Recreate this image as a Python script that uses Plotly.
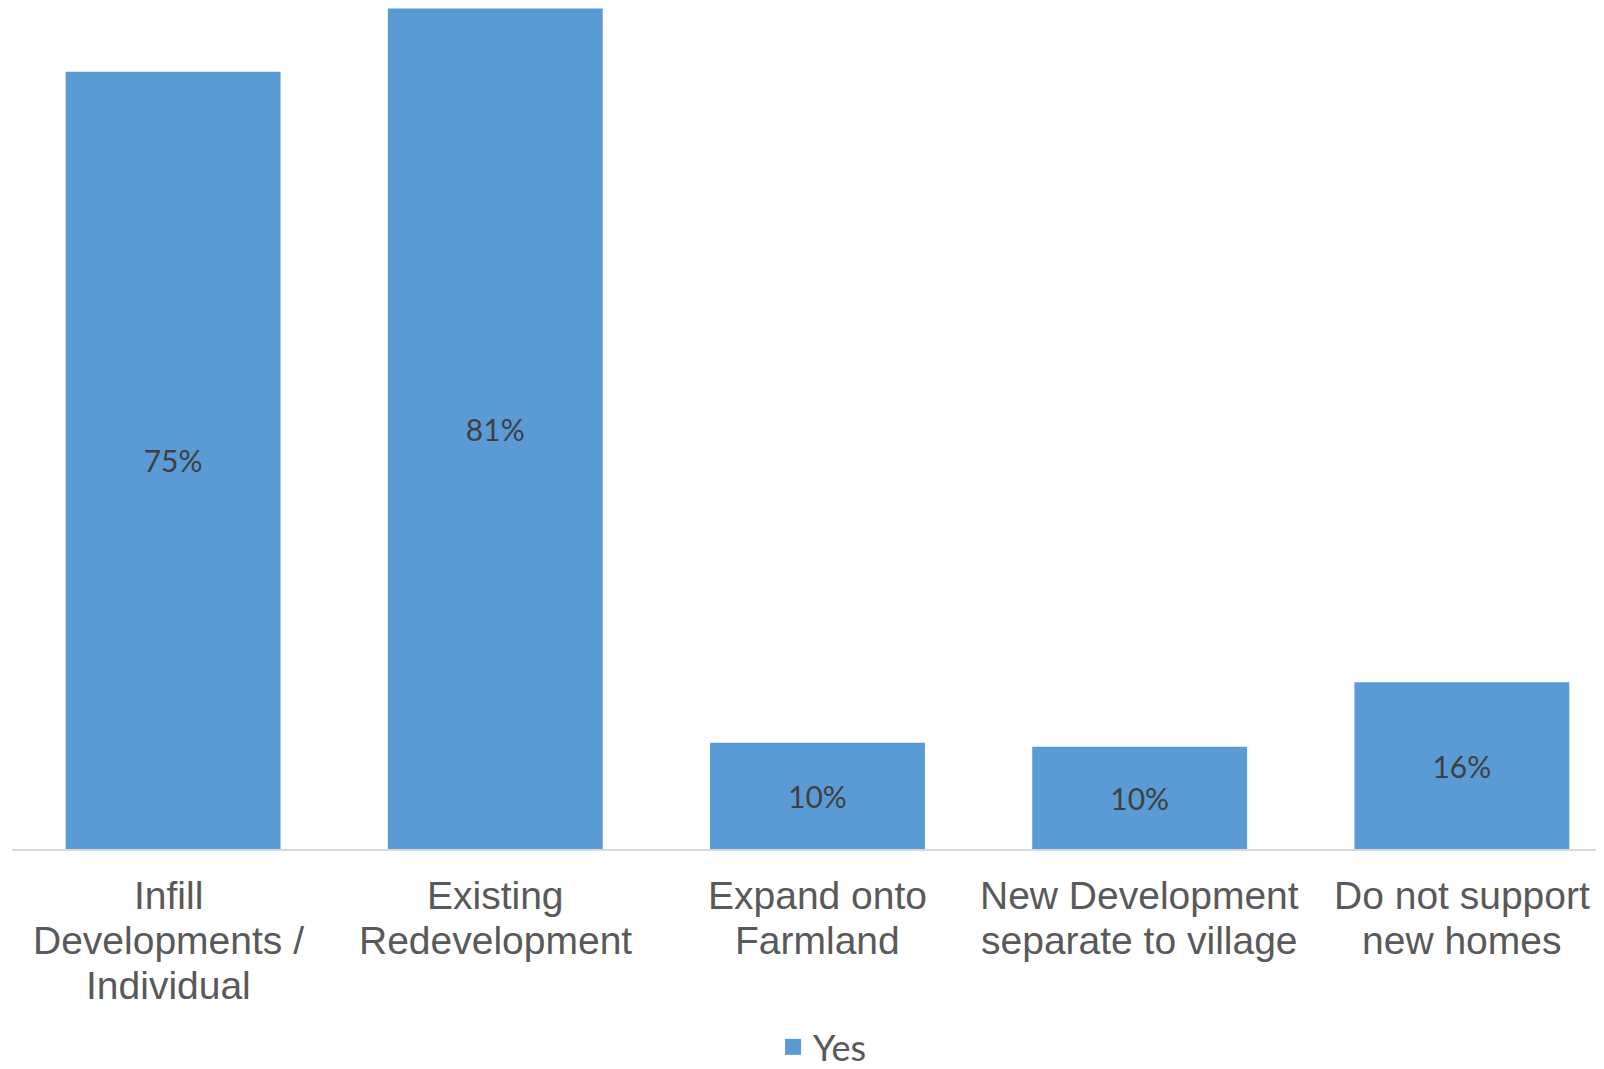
import plotly.graph_objects as go

categories = [
    "Infill Developments / Individual",
    "Existing Redevelopment",
    "Expand onto Farmland",
    "New Development separate to village",
    "Do not support new homes",
]
category_lines = [
    ["Infill", "Developments /", "Individual"],
    ["Existing", "Redevelopment"],
    ["Expand onto", "Farmland"],
    ["New Development", "separate to village"],
    ["Do not support", "new homes"],
]
series_name = "Yes"
yes_values = [0.750, 0.811, 0.1026, 0.0986, 0.161]

bar_color = "#5B9BD5"
label_font = dict(family="Liberation Sans, Arial, sans-serif", size=39, color="#595959")

fig = go.Figure()
fig.add_trace(go.Bar(
    x=categories,
    y=yes_values,
    name=series_name,
    marker=dict(color=bar_color, line=dict(width=0)),
    texttemplate="%{y:.0%}",
    textposition="inside",
    insidetextanchor="middle",
    textangle=0,
    insidetextfont=dict(family="Lato, Open Sans, sans-serif", size=30, color="#404040"),
    showlegend=False,
    hoverinfo="skip",
))
# legend entry with larger square swatch
fig.add_trace(go.Scatter(
    x=[None], y=[None], mode="markers", name=series_name,
    marker=dict(symbol="square", size=16, color=bar_color),
    showlegend=True,
))

# category labels, one annotation per line for Excel-like line spacing
line_offsets = [-46.7, -91.4, -136.1]
label_xshift = [-5, 0, 0, 0, 0]
for cat, lines, dx in zip(categories, category_lines, label_xshift):
    for i, txt in enumerate(lines):
        fig.add_annotation(
            x=cat, xref="x", y=0, yref="paper",
            yshift=line_offsets[i], xshift=dx, text=txt, showarrow=False,
            xanchor="center", yanchor="middle",
            font=label_font,
        )

fig.update_layout(
    width=1604, height=1069,
    margin=dict(l=4, r=0, t=0, b=228, autoexpand=False),
    paper_bgcolor="white", plot_bgcolor="white",
    bargap=0.333,
    xaxis=dict(
        range=[-0.5, 4.466],
        showgrid=False, zeroline=False,
        showline=True, linecolor="#D9D9D9", linewidth=2,
        ticks="", showticklabels=False,
        fixedrange=True,
    ),
    yaxis=dict(
        range=[0, 0.8115],
        visible=False, showgrid=False, zeroline=False,
        fixedrange=True,
    ),
    legend=dict(
        orientation="h",
        x=0.5066, xanchor="center",
        y=-0.2354, yanchor="middle",
        font=dict(family="Lato, Open Sans, sans-serif", size=36, color="#595959"),
        bgcolor="rgba(0,0,0,0)",
    ),
    showlegend=True,
)

fig.write_html("out.html")
